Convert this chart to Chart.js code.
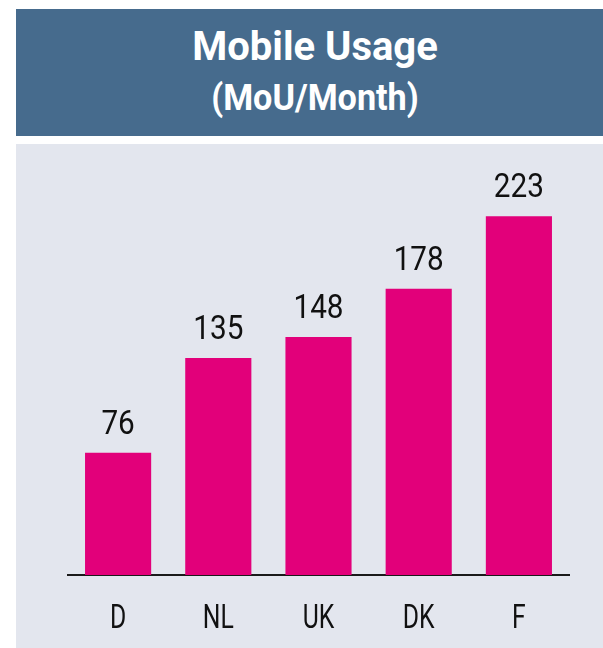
<!DOCTYPE html>
<html>
<head>
<meta charset="utf-8">
<script src="https://cdn.jsdelivr.net/npm/chart.js@4"></script>
<style>
  body { margin: 0; background: #ffffff; width: 603px; height: 648px; position: relative; overflow: hidden; }
  #header {
    position: absolute; left: 16px; top: 9px; width: 587px; height: 127px;
    background: #466b8d; color: #ffffff; text-align: center;
    font-family: "Roboto", sans-serif; font-weight: bold;
    box-sizing: border-box; padding-left: 11px;
  }
  #header .t1 { font-size: 40px; line-height: 40px; margin-top: 18px; }
  #header .t2 { font-size: 36px; line-height: 40px; margin-top: 11px; transform: scaleX(0.95); }
  #panel {
    position: absolute; left: 16px; top: 144px; width: 587px; height: 504px;
    background: #e3e6ee;
  }
</style>
</head>
<body>
<div id="header">
  <div class="t1">Mobile Usage</div>
  <div class="t2">(MoU/Month)</div>
</div>
<div id="panel"><canvas id="chart1" width="587" height="504"></canvas></div>
<script>
// Daten
const countries = ['D', 'NL', 'UK', 'DK', 'F'];
const mou = [76, 135, 148, 178, 223];
const barColor = '#e2007a';
const fontFamily = '"Roboto", sans-serif';

// schmale Schrift: Text horizontal stauchen
function narrowText(ctx, text, x, y, size, squeeze) {
    ctx.save();
    ctx.font = size + 'px ' + fontFamily;
    ctx.fillStyle = '#111111';
    ctx.textAlign = 'center';
    ctx.textBaseline = 'alphabetic';
    ctx.translate(x, y);
    ctx.scale(squeeze, 1);
    ctx.fillText(text, 0, 0);
    ctx.restore();
}

// Werte über den Balken und Ländernamen unter der Achse
const narrowLabels = {
    id: 'narrowLabels',
    afterDatasetsDraw(chart) {
        const ctx = chart.ctx;
        const meta = chart.getDatasetMeta(0);
        const xScale = chart.scales.x;
        meta.data.forEach((bar, i) => {
            narrowText(ctx, String(chart.data.datasets[0].data[i]), bar.x, bar.y - 19, 33, 0.9);
        });
        chart.data.labels.forEach((lbl, i) => {
            narrowText(ctx, lbl, xScale.getPixelForValue(i), xScale.top + 53, 33, 0.75);
        });
    }
};

const ctx1 = document.getElementById('chart1').getContext('2d');
const chart1 = new Chart(ctx1, {
    type: 'bar',
    data: {
        labels: countries,
        datasets: [{
            label: 'MoU/Month',
            data: mou,
            backgroundColor: barColor,
            borderWidth: 0,
            categoryPercentage: 1,
            barPercentage: 0.66
        }]
    },
    options: {
        responsive: false,
        animation: false,
        layout: {
            padding: { left: 52, right: 34, top: 0, bottom: 0 }
        },
        plugins: {
            legend: { display: false },
            tooltip: { enabled: false }
        },
        scales: {
            x: {
                grid: { display: false },
                border: { display: true, color: '#1a1a1a', width: 2 },
                ticks: { display: false },
                afterFit(scale) { scale.height = 73; }
            },
            y: {
                display: false,
                min: 0,
                max: 268
            }
        }
    },
    plugins: [narrowLabels]
});
</script>
</body>
</html>
